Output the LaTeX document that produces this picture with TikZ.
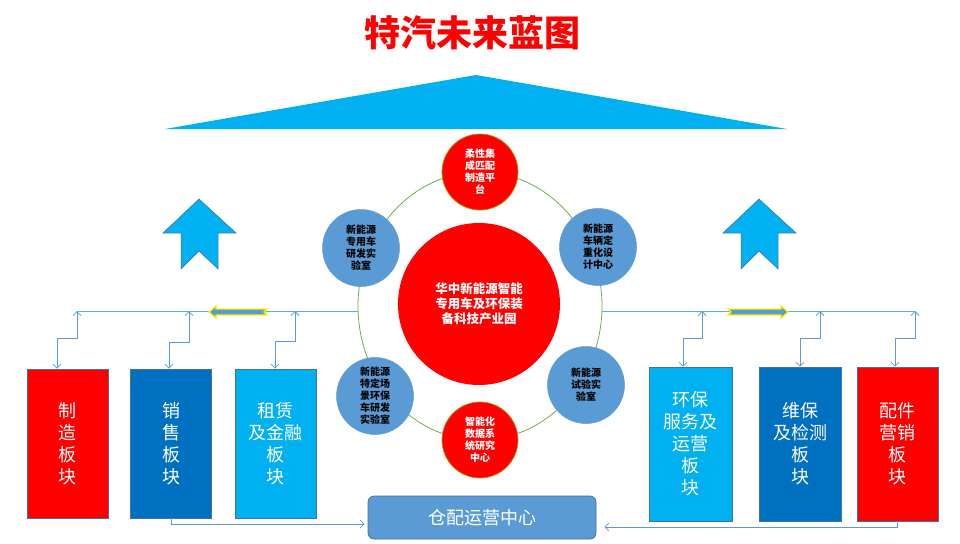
\documentclass[tikz,border=0pt]{standalone}
\usepackage{fontspec}
\setmainfont{Noto Sans CJK SC}
\usetikzlibrary{arrows.meta,calc,shapes.geometric}
\definecolor{tred}{HTML}{FF0000}
\definecolor{tdblue}{HTML}{0070C0}
\definecolor{tlblue}{HTML}{00B0F0}
\definecolor{tmblue}{HTML}{5B9BD5}
\definecolor{tedge}{HTML}{41719C}
\definecolor{tgold}{HTML}{BF9000}
\definecolor{tgreen}{HTML}{70AD47}
\definecolor{tline}{HTML}{5AAFE0}
\begin{document}
\begin{tikzpicture}[x=1pt,y=-1pt,
  conn/.style={draw=tmblue,line width=0.8pt,{Straight Barb[length=4pt,width=8pt]}-{Straight Barb[length=4pt,width=8pt]}},
  oneway/.style={draw=tmblue,line width=0.8pt,-{Straight Barb[length=4pt,width=8pt]}},
  mainline/.style={draw=tline,line width=1pt},
  blockbox/.style={draw=tedge,line width=0.6pt,minimum width=81pt,inner sep=0pt,text=white,align=center,font=\fontsize{18}{22}\selectfont},
  redcirc/.style={circle,fill=tred,draw=tgold,line width=0.7pt,minimum size=76pt,inner sep=0pt,text=white,align=center,font=\bfseries\fontsize{10}{12}\selectfont},
  bluecirc/.style={circle,fill=tmblue,draw=tmblue,line width=0.5pt,minimum size=77pt,inner sep=0pt,text=black,align=center,font=\bfseries\fontsize{10}{12}\selectfont},
  uparrow/.style={fill=tlblue,draw=tedge,line width=0.5pt},
  flowarrow/.style={fill=tmblue,draw=yellow,line width=1.3pt,line join=miter}
]
\useasboundingbox (0,0) rectangle (960,543);

% title
\node[text=tred,font=\bfseries\fontsize{36}{40}\selectfont] (title) at (472,33) {特汽未来蓝图};

% roof triangle
\fill[tlblue] (165,129) -- (476,75) -- (787,129) -- cycle;

% up arrows
\draw[uparrow] (199,199) -- (236,233) -- (218,233) -- (218,269) -- (199,251) -- (181,269) -- (181,233) -- (163,233) -- cycle;
\draw[uparrow] (759,199) -- (796,233) -- (778,233) -- (778,269) -- (759,251) -- (741,269) -- (741,233) -- (723,233) -- cycle;

% ring
\node[draw=tgreen,line width=0.8pt,ellipse,minimum width=244pt,minimum height=268pt,inner sep=0pt] (ring) at (480,306) {};

% main horizontal line
\coordinate (ringL) at (358,311);
\coordinate (ringR) at (602,311);
\coordinate (lineL) at (77,311);
\coordinate (lineR) at (915,311);
\draw[mainline] (ringL) -- (lineL);
\draw[mainline] (ringR) -- (lineR);

% boxes
\node[blockbox,fill=tred,minimum height=149pt] (b1) at (67.5,443.5) {制\\造\\板\\块};
\node[blockbox,fill=tdblue,minimum height=149pt] (b2) at (171,443.5) {销\\售\\板\\块};
\node[blockbox,fill=tlblue,minimum height=149pt] (b3) at (275.5,443.5) {租赁\\及金融\\板\\块};
\node[blockbox,fill=tlblue,minimum height=154pt,minimum width=83pt] (b4) at (690.5,444) {环保\\服务及\\运营\\板\\块};
\node[blockbox,fill=tdblue,minimum height=154pt,minimum width=82pt] (b5) at (800,444) {维保\\及检测\\板\\块};
\node[blockbox,fill=tred,minimum height=154pt] (b6) at (897.5,444) {配件\\营销\\板\\块};

% connectors from line to boxes
\coordinate (t1) at (77,311);
\coordinate (t2) at (189,311);
\coordinate (t3) at (295,311);
\coordinate (t4) at (702,311);
\coordinate (t5) at (820,311);
\coordinate (t6) at (915,311);
\draw[conn] (t1) -- ++(0,27) -| ([xshift=-10.5pt]b1.north);
\draw[conn] (t2) -- ++(0,31) -| ([xshift=-2pt]b2.north);
\draw[conn] (t3) -- ++(0,30) -| ([xshift=-0.5pt]b3.north);
\draw[conn] (t4) -- ++(0,27) -| ([xshift=-7.5pt]b4.north);
\draw[conn] (t5) -- ++(0,27) -| (b5.north);
\draw[conn] (t6) -- ++(0,27) -| ([xshift=-2.5pt]b6.north);

% flow arrows on line
\draw[flowarrow] (209,312) -- (216,306) -- (216,309) -- (267,309) -- (264,312) -- (267,315) -- (216,315) -- (216,318) -- cycle;
\draw[flowarrow] (788,312) -- (781,306) -- (781,309) -- (728,309) -- (731,312) -- (728,315) -- (781,315) -- (781,318) -- cycle;

% operation centre
\node[draw=tedge,line width=0.7pt,fill=tmblue,rounded corners=6pt,minimum width=228pt,minimum height=43pt,inner sep=0pt,text=white,font=\fontsize{18}{22}\selectfont] (ops) at (482,517.5) {仓配运营中心};
\draw[oneway,shorten >=3pt] (b2.south) |- ([yshift=-6.5pt]ops.west);
\draw[oneway,shorten >=8pt] ([xshift=-0.5pt]b6.south) |- ([yshift=-9.5pt]ops.east);

% central circle
\node[circle,fill=tred,minimum size=162pt,inner sep=0pt,text=white,align=center,font=\bfseries\fontsize{12.5}{15}\selectfont] (hub) at (479,304) {华中新能源智能\\专用车及环保装\\备科技产业园};

% satellite circles
\node[redcirc] (s1) at (480,172) {柔性集\\成匹配\\制造平\\台};
\node[bluecirc] (s2) at (598,247) {新能源\\车辆定\\重化设\\计中心};
\node[bluecirc] (s3) at (586,385) {新能源\\试验实\\验室};
\node[redcirc] (s4) at (480,440) {智能化\\数据系\\统研究\\中心};
\node[bluecirc] (s5) at (375,396) {新能源\\特定场\\景环保\\车研发\\实验室};
\node[bluecirc] (s6) at (361,248) {新能源\\专用车\\研发实\\验室};
\end{tikzpicture}
\end{document}
